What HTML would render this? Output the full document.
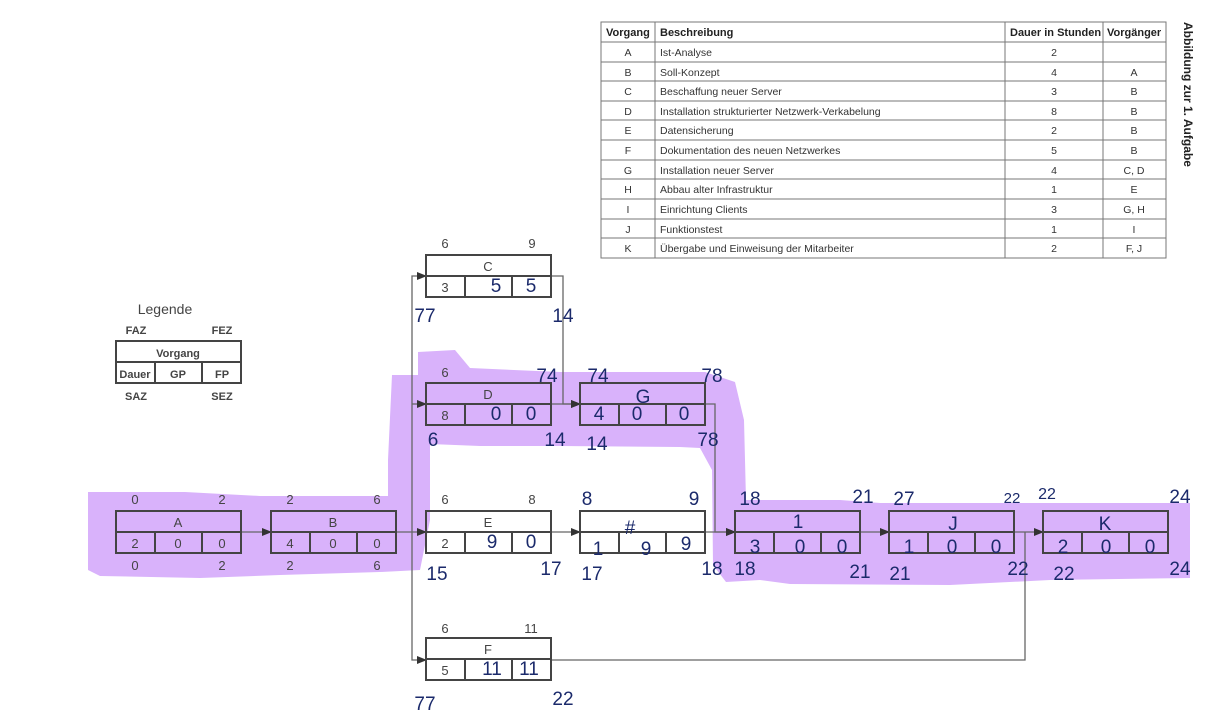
<!DOCTYPE html>
<html><head><meta charset="utf-8"><style>
html,body{margin:0;padding:0;background:#fff;}
svg{display:block;}
.p{font-family:"Liberation Sans",sans-serif;font-size:12px;fill:#444;font-weight:bold;}
.n{font-family:"Liberation Sans",sans-serif;font-size:13px;fill:#444;}
.h{font-family:"Liberation Sans",sans-serif;font-size:19px;fill:#1b2a6b;}
.t{font-family:"Liberation Sans",sans-serif;font-size:10.5px;fill:#333;}
.tb{font-family:"Liberation Sans",sans-serif;font-size:11px;fill:#222;font-weight:bold;}
</style></head><body>
<svg width="1228" height="724" viewBox="0 0 1228 724" xmlns="http://www.w3.org/2000/svg">
<defs><marker id="ar" markerWidth="10" markerHeight="8" refX="9" refY="4" orient="auto" markerUnits="userSpaceOnUse"><path d="M0,0 L10,4 L0,8 Z" fill="#333"/></marker></defs>
<g fill="#d9b2fb">
<path d="M88,492 L185,492 L260,496 L388,496 L388,460 L392,375 L418,375 L418,352 L455,350 L470,368 L560,372 L705,372 L735,382 L744,420 L746,500 L840,500 L880,503 L1190,503 L1190,578 L1050,580 L950,585 L790,584 L760,580 L726,582 L713,565 L712,470 L700,448 L680,447 L560,446 L480,446 L430,444 L430,520 L420,570 L380,572 L280,575 L200,578 L100,576 L88,570 Z"/>
</g>
<g stroke="#666" stroke-width="1.3" fill="none">
<line x1="241" y1="532" x2="271" y2="532" marker-end="url(#ar)"/>
<line x1="396" y1="532" x2="426" y2="532" marker-end="url(#ar)"/>
<path d="M412,532 L412,276 L426,276" marker-end="url(#ar)"/>
<path d="M412,404 L426,404" marker-end="url(#ar)"/>
<path d="M412,532 L412,660 L426,660" marker-end="url(#ar)"/>
<path d="M551,276 L563,276 L563,404 L580,404" marker-end="url(#ar)"/>
<line x1="551" y1="404" x2="580" y2="404" marker-end="url(#ar)"/>
<line x1="551" y1="532" x2="580" y2="532" marker-end="url(#ar)"/>
<path d="M705,404 L715,404 L715,532 L735,532" marker-end="url(#ar)"/>
<line x1="705" y1="532" x2="735" y2="532" marker-end="url(#ar)"/>
<line x1="860" y1="532" x2="889" y2="532" marker-end="url(#ar)"/>
<line x1="1014" y1="532" x2="1043" y2="532" marker-end="url(#ar)"/>
<path d="M551,660 L1025,660 L1025,532"/>
</g>
<g stroke="#444" stroke-width="2" fill="none">
<g transform="translate(116,511)"><rect width="125" height="42"/><line x1="0" y1="21" x2="125" y2="21"/><line x1="39" y1="21" x2="39" y2="42"/><line x1="86" y1="21" x2="86" y2="42"/></g>
<g transform="translate(271,511)"><rect width="125" height="42"/><line x1="0" y1="21" x2="125" y2="21"/><line x1="39" y1="21" x2="39" y2="42"/><line x1="86" y1="21" x2="86" y2="42"/></g>
<g transform="translate(426,255)"><rect width="125" height="42"/><line x1="0" y1="21" x2="125" y2="21"/><line x1="39" y1="21" x2="39" y2="42"/><line x1="86" y1="21" x2="86" y2="42"/></g>
<g transform="translate(426,383)"><rect width="125" height="42"/><line x1="0" y1="21" x2="125" y2="21"/><line x1="39" y1="21" x2="39" y2="42"/><line x1="86" y1="21" x2="86" y2="42"/></g>
<g transform="translate(426,511)"><rect width="125" height="42"/><line x1="0" y1="21" x2="125" y2="21"/><line x1="39" y1="21" x2="39" y2="42"/><line x1="86" y1="21" x2="86" y2="42"/></g>
<g transform="translate(426,638)"><rect width="125" height="42"/><line x1="0" y1="21" x2="125" y2="21"/><line x1="39" y1="21" x2="39" y2="42"/><line x1="86" y1="21" x2="86" y2="42"/></g>
<g transform="translate(580,383)"><rect width="125" height="42"/><line x1="0" y1="21" x2="125" y2="21"/><line x1="39" y1="21" x2="39" y2="42"/><line x1="86" y1="21" x2="86" y2="42"/></g>
<g transform="translate(580,511)"><rect width="125" height="42"/><line x1="0" y1="21" x2="125" y2="21"/><line x1="39" y1="21" x2="39" y2="42"/><line x1="86" y1="21" x2="86" y2="42"/></g>
<g transform="translate(735,511)"><rect width="125" height="42"/><line x1="0" y1="21" x2="125" y2="21"/><line x1="39" y1="21" x2="39" y2="42"/><line x1="86" y1="21" x2="86" y2="42"/></g>
<g transform="translate(889,511)"><rect width="125" height="42"/><line x1="0" y1="21" x2="125" y2="21"/><line x1="39" y1="21" x2="39" y2="42"/><line x1="86" y1="21" x2="86" y2="42"/></g>
<g transform="translate(1043,511)"><rect width="125" height="42"/><line x1="0" y1="21" x2="125" y2="21"/><line x1="39" y1="21" x2="39" y2="42"/><line x1="86" y1="21" x2="86" y2="42"/></g>
<g transform="translate(116,341)"><rect width="125" height="42"/><line x1="0" y1="21" x2="125" y2="21"/><line x1="39" y1="21" x2="39" y2="42"/><line x1="86" y1="21" x2="86" y2="42"/></g>
</g>
<g class="n" text-anchor="middle">
<text x="178" y="527">A</text><text x="135" y="548">2</text><text x="178" y="548">0</text><text x="222" y="548">0</text>
<text x="135" y="504">0</text><text x="222" y="504">2</text><text x="135" y="570">0</text><text x="222" y="570">2</text>
<text x="333" y="527">B</text><text x="290" y="548">4</text><text x="333" y="548">0</text><text x="377" y="548">0</text>
<text x="290" y="504">2</text><text x="377" y="504">6</text><text x="290" y="570">2</text><text x="377" y="570">6</text>
<text x="488" y="271">C</text><text x="445" y="292">3</text><text x="445" y="248">6</text><text x="532" y="248">9</text>
<text x="488" y="399">D</text><text x="445" y="420">8</text><text x="445" y="377">6</text>
<text x="488" y="527">E</text><text x="445" y="548">2</text><text x="445" y="504">6</text><text x="532" y="504">8</text>
<text x="488" y="654">F</text><text x="445" y="675">5</text><text x="445" y="633">6</text><text x="531" y="633">11</text>
</g>
<g class="p" text-anchor="middle">
<text x="165" y="314" style="font-weight:normal;font-size:14px">Legende</text>
<text x="136" y="334" font-size="11">FAZ</text><text x="222" y="334" font-size="11">FEZ</text>
<text x="178" y="357" font-size="11">Vorgang</text>
<text x="135" y="378" font-size="11">Dauer</text><text x="178" y="378" font-size="11">GP</text><text x="222" y="378" font-size="11">FP</text>
<text x="136" y="400" font-size="11">SAZ</text><text x="222" y="400" font-size="11">SEZ</text>
</g>
<g class="h" text-anchor="middle">
<text x="496" y="292">5</text><text x="531" y="292">5</text><text x="425" y="322">77</text><text x="563" y="322">14</text>
<text x="496" y="420">0</text><text x="531" y="420">0</text><text x="547" y="382">74</text><text x="433" y="446">6</text><text x="555" y="446">14</text>
<text x="598" y="382">74</text><text x="712" y="382">78</text><text x="643" y="403">G</text><text x="599" y="420">4</text><text x="637" y="420">0</text><text x="684" y="420">0</text><text x="597" y="450">14</text><text x="708" y="446">78</text>
<text x="492" y="548">9</text><text x="531" y="548">0</text><text x="437" y="580">15</text><text x="551" y="575">17</text>
<text x="587" y="505">8</text><text x="694" y="505">9</text><text x="630" y="534">#</text><text x="598" y="555">1</text><text x="646" y="555">9</text><text x="686" y="550">9</text><text x="592" y="580">17</text><text x="712" y="575">18</text>
<text x="750" y="505">18</text><text x="863" y="503">21</text><text x="755" y="553">3</text><text x="800" y="553">0</text><text x="842" y="553">0</text><text x="745" y="575">18</text><text x="860" y="578">21</text><text x="798" y="528">1</text>
<text x="904" y="505">27</text><text x="1012" y="503" font-size="15">22</text><text x="909" y="553">1</text><text x="952" y="553">0</text><text x="996" y="553">0</text><text x="900" y="580">21</text><text x="1018" y="575">22</text><text x="953" y="530">J</text>
<text x="1047" y="499" font-size="16">22</text><text x="1180" y="503">24</text><text x="1105" y="530">K</text><text x="1063" y="553">2</text><text x="1106" y="553">0</text><text x="1150" y="553">0</text><text x="1064" y="580">22</text><text x="1180" y="575">24</text>
<text x="492" y="675">11</text><text x="529" y="675">11</text><text x="425" y="710">77</text><text x="563" y="705">22</text>
</g>
<g stroke="#777" stroke-width="1" fill="none">
<rect x="601" y="22" width="565" height="236"/>
<line x1="655" y1="22" x2="655" y2="258"/><line x1="1005" y1="22" x2="1005" y2="258"/><line x1="1103" y1="22" x2="1103" y2="258"/>
<line x1="601" y1="42" x2="1166" y2="42"/><line x1="601" y1="62" x2="1166" y2="62"/><line x1="601" y1="81" x2="1166" y2="81"/><line x1="601" y1="101" x2="1166" y2="101"/><line x1="601" y1="120" x2="1166" y2="120"/><line x1="601" y1="140" x2="1166" y2="140"/><line x1="601" y1="160" x2="1166" y2="160"/><line x1="601" y1="179" x2="1166" y2="179"/><line x1="601" y1="199" x2="1166" y2="199"/><line x1="601" y1="219" x2="1166" y2="219"/><line x1="601" y1="238" x2="1166" y2="238"/>
</g>
<g class="tb"><text x="606" y="36">Vorgang</text><text x="660" y="36">Beschreibung</text><text x="1010" y="36">Dauer in Stunden</text><text x="1107" y="36">Vorgänger</text></g>
<g class="t">
<g text-anchor="middle">
<text x="628" y="56">A</text><text x="628" y="76">B</text><text x="628" y="95">C</text><text x="628" y="115">D</text><text x="628" y="134">E</text><text x="628" y="154">F</text><text x="628" y="174">G</text><text x="628" y="193">H</text><text x="628" y="213">I</text><text x="628" y="233">J</text><text x="628" y="252">K</text>
<text x="1054" y="56">2</text><text x="1054" y="76">4</text><text x="1054" y="95">3</text><text x="1054" y="115">8</text><text x="1054" y="134">2</text><text x="1054" y="154">5</text><text x="1054" y="174">4</text><text x="1054" y="193">1</text><text x="1054" y="213">3</text><text x="1054" y="233">1</text><text x="1054" y="252">2</text>
<text x="1134" y="76">A</text><text x="1134" y="95">B</text><text x="1134" y="115">B</text><text x="1134" y="134">B</text><text x="1134" y="154">B</text><text x="1134" y="174">C, D</text><text x="1134" y="193">E</text><text x="1134" y="213">G, H</text><text x="1134" y="233">I</text><text x="1134" y="252">F, J</text>
</g>
<text x="660" y="56">Ist-Analyse</text><text x="660" y="76">Soll-Konzept</text><text x="660" y="95">Beschaffung neuer Server</text><text x="660" y="115">Installation strukturierter Netzwerk-Verkabelung</text><text x="660" y="134">Datensicherung</text><text x="660" y="154">Dokumentation des neuen Netzwerkes</text><text x="660" y="174">Installation neuer Server</text><text x="660" y="193">Abbau alter Infrastruktur</text><text x="660" y="213">Einrichtung Clients</text><text x="660" y="233">Funktionstest</text><text x="660" y="252">Übergabe und Einweisung der Mitarbeiter</text>
</g>
<text transform="translate(1184,22) rotate(90)" class="tb" style="font-size:12px">Abbildung zur 1. Aufgabe</text>
</svg>
</body></html>
